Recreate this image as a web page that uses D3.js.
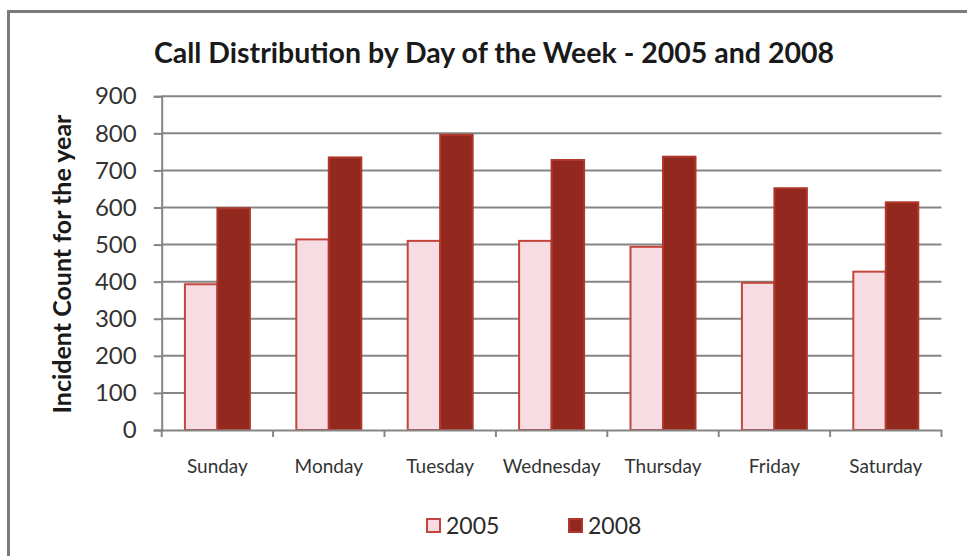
<!DOCTYPE html>
<html>
<head>
<meta charset="utf-8">
<script src="https://cdn.jsdelivr.net/npm/d3@7"></script>
<style>
  html, body { margin: 0; padding: 0; background: #ffffff; }
  svg { display: block; }
  text { font-family: Lato, "Open Sans", sans-serif; }
</style>
</head>
<body>
<svg id="chart" width="967" height="556"></svg>
<script>
// Weekday categories and yearly incident counts
const days = ["Sunday", "Monday", "Tuesday", "Wednesday", "Thursday", "Friday", "Saturday"];
const years = ["2005", "2008"];
const counts2005 = [393, 514, 510, 510, 494, 397, 427];
const counts2008 = [598, 735, 796, 728, 737, 652, 614];
const yTicks = [0, 100, 200, 300, 400, 500, 600, 700, 800, 900];

const seriesValues = { "2005": counts2005, "2008": counts2008 };
const fills = { "2005": "#f7dde3", "2008": "#93291e" };
const strokes = { "2005": "#c4453b", "2008": "#b0372b" };

const svg = d3.select("#chart");

// Outer chart frame
svg.append("rect")
  .attr("x", 8.5).attr("y", 11.5)
  .attr("width", 1000).attr("height", 600)
  .attr("fill", "none")
  .attr("stroke", "#7a7a7a")
  .attr("stroke-width", 3);

const plot = { left: 161.7, right: 941.5, top: 96.25, bottom: 430 };

const x = d3.scaleBand().domain(days).range([plot.left, plot.right]).padding(0);
const xInner = d3.scaleBand().domain(years).range([0, x.bandwidth()])
  .paddingInner(0).paddingOuter(0.714);
const y = d3.scaleLinear().domain([0, 900]).range([plot.bottom, plot.top]);

// Horizontal gridlines
svg.append("g")
  .selectAll("line")
  .data(yTicks.filter(d => d > 0))
  .join("line")
  .attr("x1", plot.left).attr("x2", plot.right)
  .attr("y1", d => y(d)).attr("y2", d => y(d))
  .attr("stroke", "#858585")
  .attr("stroke-width", 2);

// Y axis
const yAxis = svg.append("g")
  .attr("transform", `translate(${plot.left},0)`)
  .call(d3.axisLeft(y).tickValues(yTicks).tickSize(8).tickPadding(17).tickFormat(d3.format("d")));
yAxis.select(".domain").attr("stroke", "#858585").attr("stroke-width", 2);
yAxis.selectAll(".tick line").attr("stroke", "#858585").attr("stroke-width", 2);
yAxis.selectAll(".tick text")
  .attr("font-size", 24)
  .attr("fill", "#333333")
  .style("font-family", "Lato, sans-serif");

// Bars
const groups = svg.append("g")
  .selectAll("g")
  .data(days)
  .join("g")
  .attr("transform", d => `translate(${x(d)},0)`);

groups.selectAll("rect")
  .data((day, i) => years.map(yr => ({ yr, v: seriesValues[yr][i] })))
  .join("rect")
  .attr("x", d => xInner(d.yr))
  .attr("y", d => y(d.v))
  .attr("width", xInner.bandwidth())
  .attr("height", d => y(0) - y(d.v))
  .attr("fill", d => fills[d.yr])
  .attr("stroke", d => strokes[d.yr])
  .attr("stroke-width", 2);

// X axis
const xAxis = svg.append("g")
  .attr("transform", `translate(0,${plot.bottom})`)
  .call(d3.axisBottom(x).tickSize(0).tickPadding(30));
xAxis.select(".domain").attr("stroke", "#858585").attr("stroke-width", 2);
xAxis.selectAll(".tick text")
  .attr("font-size", 19)
  .attr("fill", "#333333")
  .style("font-family", "Lato, sans-serif");

// Category boundary tick marks
svg.append("g")
  .selectAll("line")
  .data(days.map(d => x(d)).concat([plot.right]))
  .join("line")
  .attr("x1", d => d).attr("x2", d => d)
  .attr("y1", plot.bottom).attr("y2", plot.bottom + 7)
  .attr("stroke", "#858585")
  .attr("stroke-width", 2);

// Title
svg.append("text")
  .attr("x", 494).attr("y", 63)
  .attr("text-anchor", "middle")
  .attr("font-size", 28.5)
  .attr("font-weight", "bold")
  .attr("fill", "#1a1a1a")
  .text("Call Distribution by Day of the Week - 2005 and 2008");

// Y axis title
svg.append("text")
  .attr("transform", "translate(71,264) rotate(-90)")
  .attr("text-anchor", "middle")
  .attr("font-size", 25)
  .attr("font-weight", "bold")
  .attr("fill", "#1a1a1a")
  .text("Incident Count for the year");

// Legend
const legendX = { "2005": 426, "2008": 568 };
const legend = svg.append("g")
  .selectAll("g")
  .data(years)
  .join("g")
  .attr("transform", d => `translate(${legendX[d]},518)`);
legend.append("rect")
  .attr("x", 1).attr("y", 1)
  .attr("width", 13).attr("height", 13)
  .attr("fill", d => fills[d])
  .attr("stroke", d => strokes[d])
  .attr("stroke-width", 2);
legend.append("text")
  .attr("x", 20).attr("y", 16)
  .attr("font-size", 23)
  .attr("fill", "#2a2a2a")
  .text(d => d);
</script>
</body>
</html>
